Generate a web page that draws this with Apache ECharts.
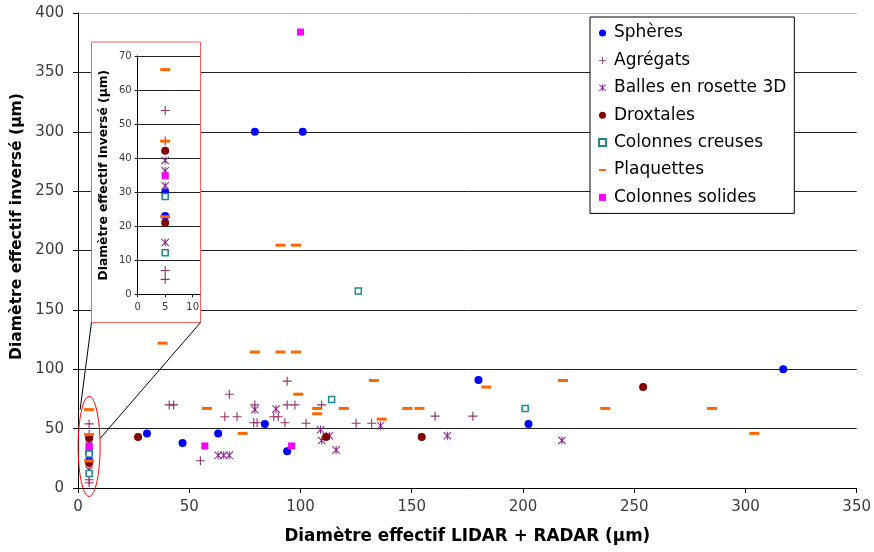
<!DOCTYPE html>
<html><head><meta charset="utf-8">
<script src="https://cdn.jsdelivr.net/npm/echarts@6/dist/echarts.min.js"></script>
<style>html,body{margin:0;padding:0;background:#fff}#c{width:874px;height:552px}</style>
</head><body><div id="c"></div>
<script>
// ---- data (x: Diamètre effectif LIDAR + RADAR, y: Diamètre effectif inversé) ----
const seriesNames = ['Sphères','Agrégats','Balles en rosette 3D','Droxtales','Colonnes creuses','Plaquettes','Colonnes solides'];
const spheres = [[5,30],[5,23],[31,46],[47,38],[63,46],[79.5,300],[101,300],[84,54],[94,31],[180,91],[202.5,54],[317,100]];
const agregats = [[5,54],[5,45],[5,7],[5,4.4],[41,70],[43,70],[55,23],[66,60],[68,79],[71.5,60],[79.5,70],[79,55],[80.5,55],[88,60],[90,60],[93,55],[94,90],[94,70],[97.5,70],[102.5,54.5],[109.5,70],[125,54.5],[132,54.5],[160.5,60.5],[177.5,60.5]];
const rosettes = [[5,39.3],[5,36.3],[5,31.9],[5,15.2],[63,27.5],[65.5,27.5],[68,27.5],[79.5,66],[89,66.5],[109,49],[109.5,40],[113,44],[116,32],[136,52.5],[166,44],[217.5,40]];
const droxtales = [[5,42.2],[5,21],[27,43],[111.5,43],[154.5,43],[254,85]];
const colonnesCreuses = [[5,28.7],[5,12.2],[114,74.5],[126,166],[201,67]];
const plaquettes = [[5,66],[5,45],[5,22.8],[38,122],[58,67],[74,46],[79.5,114.5],[91,114.5],[98,114.5],[91,204.5],[98,204.5],[99,79],[107.5,67],[107.5,62.5],[119.5,67],[133,90.5],[136.5,58],[148,67],[153.5,67],[183.5,85],[218,90.5],[237,67],[285,67],[304,46]];
const colonnesSolides = [[5,34.8],[57,35.4],[96,35.4],[100,384]];
const mainX = {min:0, max:350, interval:50};
const mainY = {min:0, max:400, interval:50};
const insetX = {min:0, max:11.33, interval:5, ticks:[0,5,10]};
const insetY = {min:0, max:70, interval:10};
const xTitle = 'Diamètre effectif LIDAR + RADAR (µm)';
const yTitle = 'Diamètre effectif inversé (µm)';

// ---- styles ----
const FONT = 'DejaVu Sans';
const PLUS = 'path://M3.5,0h1v8h-1zM0,3.5h8v1h-8z';
const STAR = 'path://M0,0.7L0.7,0L8,7.3L7.3,8ZM7.3,0L8,0.7L0.7,8L0,7.3ZM3.5,0h1v8h-1z';
const DASH = 'path://M0,0h10v3h-10z';
const styles = [
  {data:spheres, symbol:'circle', size:8, itemStyle:{color:'#0000FF', opacity:1}, icon:'circle'},
  {data:agregats, symbol:PLUS, size:9, itemStyle:{color:'#993366', opacity:1}, icon:PLUS},
  {data:rosettes, symbol:STAR, size:8, itemStyle:{color:'#8B1E8B', opacity:1}, icon:STAR},
  {data:droxtales, symbol:'circle', size:8, itemStyle:{color:'#800000', opacity:1}, icon:'circle'},
  {data:colonnesCreuses, symbol:'rect', size:6, itemStyle:{color:'#ffffff', borderColor:'#1A8A8A', borderWidth:1.5, opacity:1}, icon:'rect'},
  {data:plaquettes, symbol:'rect', size:[10,3], itemStyle:{color:'#FF6600', opacity:1}, icon:DASH},
  {data:colonnesSolides, symbol:'rect', size:7, itemStyle:{color:'#FF00FF', opacity:1}, icon:'rect'}
];

const series = [];
styles.forEach((s,i)=>{
  series.push({type:'scatter', name:seriesNames[i], xAxisIndex:0, yAxisIndex:0, data:s.data,
    symbol:s.symbol, symbolSize:s.size, itemStyle:s.itemStyle, z:2, emphasis:{disabled:true}, animation:false});
});
styles.forEach((s,i)=>{
  series.push({type:'scatter', name:seriesNames[i], xAxisIndex:1, yAxisIndex:1,
    data:s.data.filter(p=>p[0]<=insetX.max && p[1]<=insetY.max),
    symbol:s.symbol, symbolSize:s.size, itemStyle:s.itemStyle, z:6, emphasis:{disabled:true}, animation:false});
});

const INSET = {left:137.7, top:56, width:62.3, height:238.3};
const option = {
  animation:false,
  backgroundColor:'#ffffff',
  grid:[
    {left:78, right:16, top:13, bottom:64},
    {left:INSET.left, top:INSET.top, width:INSET.width, height:INSET.height, z:5}
  ],
  xAxis:[
    {type:'value', gridIndex:0, min:mainX.min, max:mainX.max, interval:mainX.interval,
     name:xTitle, nameLocation:'middle', nameGap:40,
     nameTextStyle:{fontFamily:FONT, fontWeight:'bold', fontSize:16.8, color:'#000'},
     axisLine:{show:true, onZero:false, lineStyle:{color:'#000', width:1}},
     axisTick:{show:true, inside:false, length:5, lineStyle:{color:'#000'}},
     axisLabel:{fontFamily:FONT, fontSize:15, color:'#3c3c3c', margin:12},
     splitLine:{show:false}},
    {type:'value', gridIndex:1, min:insetX.min, max:insetX.max, interval:insetX.interval, z:5,
     axisLine:{show:true, onZero:false, lineStyle:{color:'#000', width:1}},
     axisTick:{show:true, length:3, customValues:insetX.ticks, lineStyle:{color:'#000'}},
     axisLabel:{fontFamily:FONT, fontSize:10, color:'#3c3c3c', margin:8, customValues:insetX.ticks},
     splitLine:{show:false}}
  ],
  yAxis:[
    {type:'value', gridIndex:0, min:mainY.min, max:mainY.max, interval:mainY.interval,
     name:yTitle, nameLocation:'middle', nameGap:47, nameRotate:90,
     nameTextStyle:{fontFamily:FONT, fontWeight:'bold', fontSize:15.6, color:'#000', padding:[0,0,0,48]},
     axisLine:{show:true, lineStyle:{color:'#000', width:1}},
     axisTick:{show:true, length:5, lineStyle:{color:'#000'}},
     axisLabel:{fontFamily:FONT, fontSize:15, color:'#3c3c3c', margin:14},
     splitLine:{show:true, lineStyle:{color:['#222','#222','#222','#222','#222','#222','#222','#222','#bbbbbb'], width:1}}},
    {type:'value', gridIndex:1, min:insetY.min, max:insetY.max, interval:insetY.interval, z:5,
     name:yTitle, nameLocation:'middle', nameGap:28, nameRotate:90,
     nameTextStyle:{fontFamily:FONT, fontWeight:'bold', fontSize:12.3, color:'#000'},
     axisLine:{show:true, lineStyle:{color:'#000', width:1}},
     axisTick:{show:true, length:3, lineStyle:{color:'#000'}},
     axisLabel:{fontFamily:FONT, fontSize:10, color:'#3c3c3c', margin:6},
     splitLine:{show:true, lineStyle:{color:'#222', width:1}}}
  ],
  legend:{
    orient:'vertical', left:590, top:17, padding:[7,8,7,8],
    itemWidth:7, itemHeight:7, itemGap:9.4, symbolKeepAspect:true,
    backgroundColor:'#ffffff', borderColor:'#000', borderWidth:1, borderRadius:0,
    textStyle:{fontFamily:FONT, fontSize:17, color:'#000', lineHeight:18, padding:[0,0,0,3]},
    selectedMode:false,
    data: seriesNames.map((n,i)=>({name:n, icon:styles[i].icon})),
    z:8
  },
  series: series
};

const chart = echarts.init(document.getElementById('c'), null, {renderer:'canvas'});
chart.setOption(option);

// ---- zoom annotation: inset frame, ellipse, connector lines ----
const ELLIPSE_CENTER = [5, 35];
const c = chart.convertToPixel({gridIndex:0}, ELLIPSE_CENTER);
const frame = {x:91.5, y:42, w:109, h:280.5};
chart.setOption({
  graphic:[
    {type:'rect', z:3, shape:{x:frame.x, y:frame.y, width:frame.w, height:frame.h},
     style:{fill:'#ffffff', stroke:'#FF6060', lineWidth:1}},
    {type:'ellipse', z:3, shape:{cx:c[0], cy:c[1], rx:11, ry:50},
     style:{fill:'none', stroke:'#FF0000', lineWidth:1}},
    {type:'line', z:3, shape:{x1:frame.x, y1:frame.y+frame.h, x2:c[0]-9, y2:c[1]-37},
     style:{stroke:'#000', lineWidth:1}},
    {type:'line', z:3, shape:{x1:frame.x+frame.w, y1:frame.y+frame.h, x2:c[0]+11, y2:c[1]-8},
     style:{stroke:'#000', lineWidth:1}}
  ]
});
</script>
</body></html>
